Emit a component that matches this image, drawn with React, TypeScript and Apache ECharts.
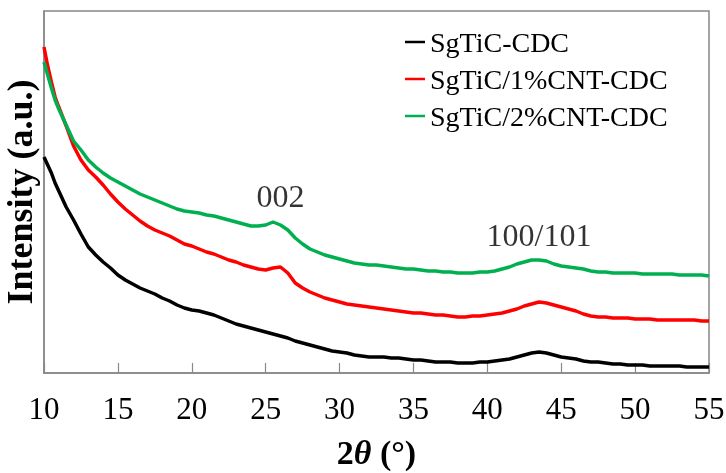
import React, { useEffect, useRef } from "react";
import * as echarts from "echarts";

const twoTheta = [
  10, 10.25, 10.5, 10.75, 11, 11.5, 12, 12.5, 13, 13.5, 14, 14.5, 15, 15.5, 16, 16.5, 17, 17.5, 18, 18.5,
  19, 19.5, 20, 20.5, 21, 21.5, 22, 22.5, 23, 23.5, 24, 24.5, 25, 25.5, 26, 26.5, 27, 27.5, 28, 28.5,
  29, 29.5, 30, 30.5, 31, 31.5, 32, 32.5, 33, 33.5, 34, 34.5, 35, 35.5, 36, 36.5, 37, 37.5, 38, 38.5,
  39, 39.5, 40, 40.5, 41, 41.5, 42, 42.5, 43, 43.5, 44, 44.5, 45, 45.5, 46, 46.5, 47, 47.5, 48, 48.5,
  49, 49.5, 50, 50.5, 51, 51.5, 52, 52.5, 53, 53.5, 54, 54.5, 55,
];

const sgTiCCDC = [
  216, 208, 200, 190, 182, 166, 153, 139, 126, 118, 111, 105, 98, 93, 89, 85, 82, 79, 75, 72,
  68, 65, 63, 62, 60, 58, 55, 52, 49, 47, 45, 43, 41, 39, 37, 35, 32, 30, 28, 26,
  24, 22, 21, 20, 18, 17, 16, 16, 16, 15, 15, 14, 13, 13, 12, 11, 11, 11, 10, 10,
  10, 11, 11, 12, 13, 14, 16, 18, 20, 21, 20, 18, 16, 15, 14, 12, 11, 11, 10, 9,
  9, 8, 8, 8, 7, 7, 7, 7, 7, 6, 6, 6, 6,
];

const sgTiC1CNT = [
  326, 307, 291, 276, 266, 247, 227, 213, 203, 196, 188, 179, 171, 164, 158, 152, 147, 143, 140, 137,
  133, 129, 127, 124, 121, 119, 116, 113, 111, 108, 106, 104, 103, 105, 106, 100, 90, 85, 81, 78,
  75, 73, 71, 69, 68, 67, 66, 65, 64, 63, 62, 61, 60, 60, 59, 58, 58, 57, 56, 56,
  57, 57, 58, 59, 60, 62, 64, 67, 69, 71, 70, 68, 66, 64, 62, 59, 57, 56, 56, 55,
  55, 55, 54, 54, 54, 53, 53, 53, 53, 53, 53, 52, 52,
];

const sgTiC2CNT = [
  311, 298, 285, 273, 264, 248, 232, 223, 213, 206, 200, 195, 191, 187, 183, 179, 176, 173, 170, 167,
  164, 162, 161, 160, 158, 157, 155, 153, 151, 149, 147, 147, 148, 151, 148, 143, 135, 129, 124, 121,
  118, 116, 114, 112, 110, 109, 108, 108, 107, 106, 105, 104, 104, 103, 102, 102, 101, 101, 100, 100,
  100, 101, 101, 102, 104, 106, 109, 111, 113, 113, 112, 109, 107, 106, 105, 104, 102, 101, 101, 100,
  100, 100, 100, 99, 99, 99, 99, 99, 98, 98, 98, 98, 97,
];

const seriesNames = ["SgTiC-CDC", "SgTiC/1%CNT-CDC", "SgTiC/2%CNT-CDC"];
const seriesColors = ["#000000", "#ff0000", "#00b050"];

const peakLabels = ["002", "100/101"];
const peakX = [26, 43.5];
const peakY = [177, 138];

export default function App() {
  const ref = useRef<HTMLDivElement>(null);

  useEffect(() => {
    if (!ref.current) return;
    const chart = echarts.init(ref.current, null, { renderer: "svg" });
    const zip = (ys: number[]) => twoTheta.map((x, i) => [x, ys[i]]);
    const allSeries = [sgTiCCDC, sgTiC1CNT, sgTiC2CNT];

    chart.setOption({
      animation: false,
      grid: {
        left: 44,
        top: 11,
        right: 17,
        bottom: 100,
        containLabel: false,
        outerBoundsMode: "none",
        show: true,
        borderColor: "#888888",
        borderWidth: 1.5,
        backgroundColor: "transparent",
      },
      legend: {
        orient: "vertical",
        left: 405,
        top: 28,
        padding: 0,
        itemGap: 9,
        itemWidth: 20,
        itemHeight: 2.5,
        icon: "rect",
        data: seriesNames,
        textStyle: { fontSize: 28, fontFamily: "Liberation Serif", color: "#000" },
      },
      xAxis: {
        type: "value",
        min: 10,
        max: 55,
        interval: 5,
        axisLine: { show: true, lineStyle: { color: "#888888", width: 1.5 } },
        axisTick: { show: true, inside: true, length: 10, lineStyle: { color: "#888888", width: 1.2 } },
        axisLabel: { fontSize: 31, fontFamily: "Liberation Serif", color: "#000", margin: 20, showMinLabel: true, showMaxLabel: true },
        splitLine: { show: false },
        name: "{a|2}{b|θ}{a| (°)}",
        nameLocation: "middle",
        nameGap: 62,
        nameTextStyle: {
          fontSize: 34,
          fontWeight: "bold",
          fontFamily: "Liberation Serif",
          color: "#000",
          rich: {
            a: { fontSize: 34, fontWeight: "bold", fontFamily: "Liberation Serif", color: "#000" },
            b: { fontSize: 34, fontWeight: "bold", fontStyle: "italic", fontFamily: "Liberation Serif", color: "#000" },
          },
        },
      },
      yAxis: {
        type: "value",
        min: 0,
        max: 362,
        axisLine: { show: true, lineStyle: { color: "#888888", width: 1.5 } },
        axisTick: { show: false },
        axisLabel: { show: false },
        splitLine: { show: false },
        name: "Intensity (a.u.)",
        nameLocation: "middle",
        nameGap: 6,
        nameTextStyle: { fontSize: 36, fontWeight: "bold", fontFamily: "Liberation Serif", color: "#000" },
      },
      series: [
        ...[2, 1, 0].map((k) => ({
          name: seriesNames[k],
          type: "line",
          data: zip(allSeries[k]),
          showSymbol: false,
          symbol: "none",
          smooth: false,
          color: seriesColors[k],
          lineStyle: { color: seriesColors[k], width: 3.5 },
          z: 3 + k,
        })),
        {
          name: "peaks",
          type: "scatter",
          symbolSize: 0,
          data: peakX.map((x, i) => [x, peakY[i]]),
          label: {
            show: true,
            position: "inside",
            formatter: (p: any) => peakLabels[p.dataIndex],
            fontSize: 32,
            fontFamily: "Liberation Serif",
            color: "#000",
          },
          silent: true,
          z: 10,
        },
      ],
    });

    return () => chart.dispose();
  }, []);

  return (
    <div
      ref={ref}
      style={{ position: "fixed", left: 0, top: 0, width: 726, height: 473 }}
    />
  );
}
